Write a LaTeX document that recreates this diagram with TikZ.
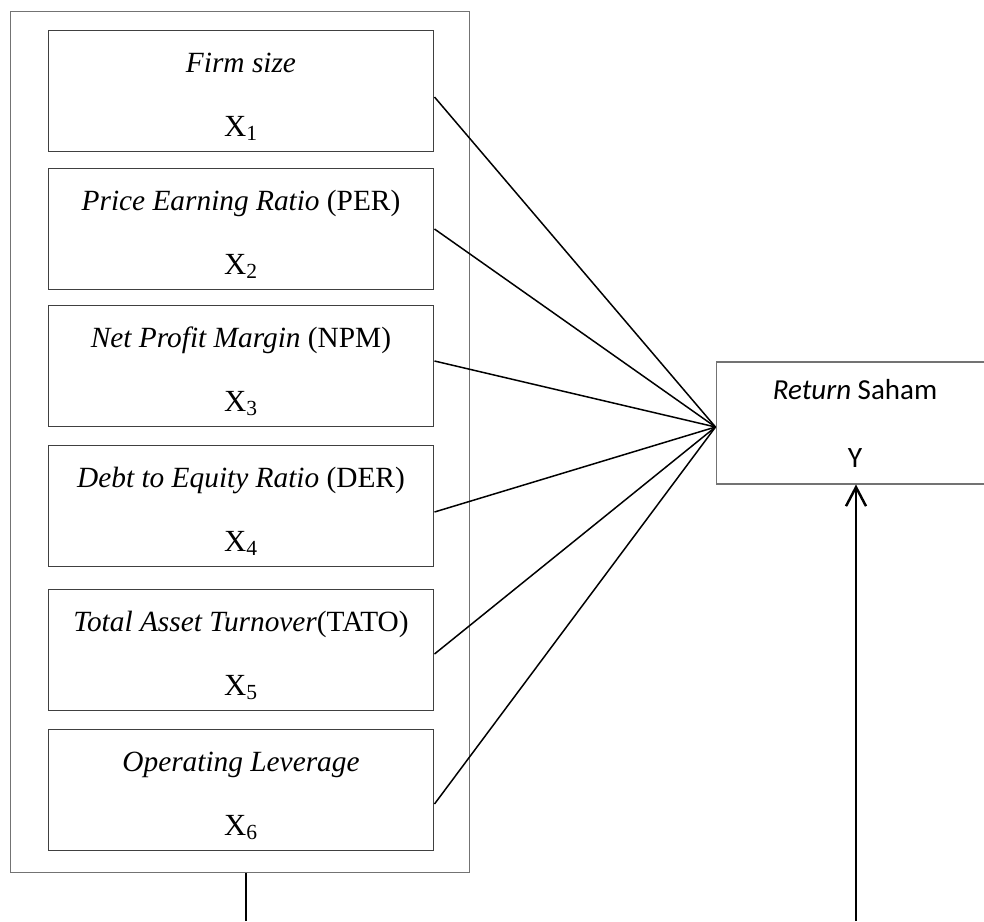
\documentclass[tikz,border=0pt]{standalone}
\usepackage{fontspec}
\setmainfont{Liberation Serif}
\newfontfamily\calibri{Carlito}
\usetikzlibrary{arrows.meta}

\begin{document}
\begin{tikzpicture}[x=0.02cm, y=-0.02cm,
        every node/.style={inner sep=0pt},
        var/.style={draw=black!75, line width=0.6pt, minimum width=7.72cm, minimum height=2.42cm},
        ttl/.style={anchor=base, font=\fontsize{16.7}{19}\selectfont},
        sym/.style={anchor=base, font=\fontsize{17.5}{20}\selectfont},
        link/.style={line width=0.85pt},
        >={Straight Barb[length=0.38cm, width=0.4cm]}]
    \clip (0,0) rectangle (984,921);
    \node[draw=black!55, line width=0.6pt, minimum width=9.2cm, minimum height=17.24cm] (frame) at (240,442) {};
    % independent variables
    \node[var] (x1) at (241,91) {};
    \node[ttl] at (241,72) {\textit{Firm size}};
    \node[sym] at (241,136) {X\textsubscript{1}};
    \node[var] (x2) at (241,229) {};
    \node[ttl] at (241,210) {\textit{Price Earning Ratio} (PER)};
    \node[sym] at (241,274) {X\textsubscript{2}};
    \node[var] (x3) at (241,366) {};
    \node[ttl] at (241,347) {\textit{Net Profit Margin} (NPM)};
    \node[sym] at (241,411) {X\textsubscript{3}};
    \node[var] (x4) at (241,506) {};
    \node[ttl] at (241,487) {\textit{Debt to Equity Ratio} (DER)};
    \node[sym] at (241,551) {X\textsubscript{4}};
    \node[var] (x5) at (241,650) {};
    \node[ttl] at (241,631) {\textit{Total Asset Turnover}(TATO)};
    \node[sym] at (241,695) {X\textsubscript{5}};
    \node[var] (x6) at (241,790) {};
    \node[ttl] at (241,771) {\textit{Operating Leverage}};
    \node[sym] at (241,835) {X\textsubscript{6}};
    % dependent variable
    \node[draw=black!55, line width=0.6pt, minimum width=5.56cm, minimum height=2.44cm] (ret) at (855,423) {};
    \node[ttl, font=\calibri\fontsize{16.5}{19}\selectfont] at (855,399) {\textit{Return} Saham};
    \node[ttl, font=\calibri\fontsize{16.8}{19}\selectfont] at (855,467) {Y};
    \draw[link] ([yshift=-0.12cm]x1.east) -- ([yshift=-0.08cm]ret.west);
    \draw[link] (x2.east) -- ([yshift=-0.08cm]ret.west);
    \draw[link] ([yshift=0.1cm]x3.east) -- ([yshift=-0.08cm]ret.west);
    \draw[link] ([yshift=-0.12cm]x4.east) -- ([yshift=-0.08cm]ret.west);
    \draw[link] ([yshift=-0.08cm]x5.east) -- ([yshift=-0.08cm]ret.west);
    \draw[link] ([yshift=-0.28cm]x6.east) -- ([yshift=-0.08cm]ret.west);
    % lines to the bottom
    \coordinate (b1) at (246,921);
    \coordinate (b2) at (856,921);
    \draw[line width=1.1pt] (b1) -- (b1 |- frame.south);
    \draw[->, line width=1.4pt] (b2) -- (b2 |- ret.south);
\end{tikzpicture}
\end{document}
